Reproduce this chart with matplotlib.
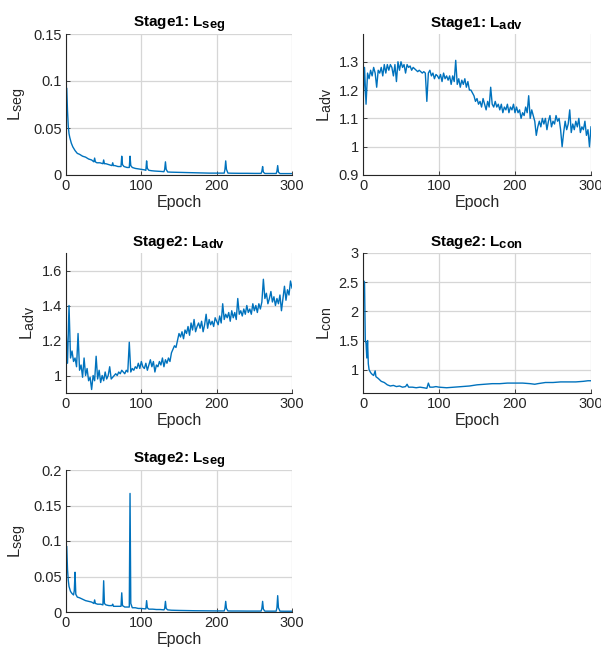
import numpy as np
import matplotlib
matplotlib.use("Agg")
import matplotlib.pyplot as plt
import matplotlib._mathtext as mathtext_internals

plt.rcParams["font.family"] = ["Liberation Sans", "DejaVu Sans"]
plt.rcParams["mathtext.fontset"] = "custom"
plt.rcParams["mathtext.rm"] = "Liberation Sans"
plt.rcParams["mathtext.it"] = "Liberation Sans"
plt.rcParams["mathtext.bf"] = "Liberation Sans:bold"
# MATLAB-style subscripts are nearly full size
mathtext_internals.SHRINK_FACTOR = 0.85

# ---- data ----
# Stage1 L_seg
s1_seg_epoch = [1, 2, 3, 4, 5, 7, 9, 12, 15, 18, 22, 26, 30, 34, 37, 38, 39, 41, 45, 49,
                50, 51, 53, 57, 61, 62, 63, 65, 69, 73, 74, 75, 77, 81, 84, 85, 86, 88, 92, 96,
                100, 104, 106, 107, 108, 110, 114, 118, 122, 126, 130, 131, 132, 133, 135, 140, 150, 160, 170, 180,
                190, 200, 205, 210, 211, 212, 213, 215, 220, 230, 240, 250, 255, 259, 260, 261, 262, 264, 270, 275,
                279, 280, 281, 282, 284, 290, 295, 300]
s1_seg_val = [0.092, 0.068, 0.052, 0.044, 0.040, 0.034, 0.030, 0.026, 0.023, 0.022, 0.020, 0.019, 0.017, 0.016, 0.014, 0.018, 0.014, 0.013, 0.013, 0.012,
              0.016, 0.012, 0.012, 0.011, 0.010, 0.013, 0.010, 0.010, 0.009, 0.009, 0.020, 0.011, 0.009, 0.008, 0.008, 0.020, 0.010, 0.008, 0.007, 0.0065,
              0.006, 0.0055, 0.005, 0.015, 0.007, 0.005, 0.0045, 0.0042, 0.004, 0.0038, 0.0035, 0.006, 0.014, 0.006, 0.0032, 0.003, 0.0028, 0.0026, 0.0024, 0.0022,
              0.002, 0.002, 0.002, 0.002, 0.006, 0.015, 0.006, 0.002, 0.0019, 0.0018, 0.0018, 0.0017, 0.0017, 0.0017, 0.004, 0.009, 0.003, 0.0016, 0.0016, 0.0016,
              0.0016, 0.004, 0.010, 0.003, 0.0015, 0.0015, 0.0015, 0.0015]

# Stage1 L_adv (every 2 epochs)
s1_adv_epoch = np.arange(0, 301, 2)
s1_adv_val = [1.14, 1.28, 1.15, 1.26, 1.24, 1.27, 1.25, 1.28, 1.26, 1.21,
              1.27, 1.26, 1.28, 1.25, 1.29, 1.26, 1.29, 1.27, 1.29, 1.28,
              1.25, 1.29, 1.23, 1.30, 1.27, 1.30, 1.28, 1.29, 1.26, 1.29,
              1.28, 1.285, 1.27, 1.28, 1.275, 1.27, 1.265, 1.27, 1.265, 1.26,
              1.265, 1.26, 1.16, 1.26, 1.27, 1.25, 1.26, 1.24, 1.255, 1.25,
              1.24, 1.255, 1.23, 1.26, 1.24, 1.25, 1.235, 1.25, 1.22, 1.25,
              1.23, 1.305, 1.22, 1.24, 1.21, 1.235, 1.22, 1.24, 1.21, 1.23,
              1.20, 1.20, 1.19, 1.18, 1.16, 1.17, 1.15, 1.16, 1.14, 1.17,
              1.15, 1.13, 1.16, 1.14, 1.21, 1.15, 1.14, 1.16, 1.14, 1.15,
              1.13, 1.15, 1.12, 1.14, 1.13, 1.15, 1.12, 1.14, 1.13, 1.15,
              1.12, 1.14, 1.12, 1.13, 1.10, 1.12, 1.11, 1.14, 1.12, 1.18,
              1.10, 1.13, 1.11, 1.09, 1.04, 1.07, 1.09, 1.07, 1.10, 1.08,
              1.10, 1.06, 1.09, 1.11, 1.07, 1.09, 1.08, 1.11, 1.09, 1.10,
              1.06, 1.00, 1.05, 1.09, 1.06, 1.08, 1.13, 1.05, 1.08, 1.06,
              1.09, 1.07, 1.10, 1.05, 1.07, 1.06, 1.09, 1.04, 1.06, 1.00,
              1.07]

# Stage2 L_adv (every 2 epochs)
s2_adv_epoch = np.arange(0, 301, 2)
s2_adv_val = [1.28, 1.07, 1.40, 1.10, 1.14, 1.08, 1.10, 1.05, 1.24, 1.03,
              1.06, 0.99, 1.10, 1.00, 1.04, 0.97, 0.99, 0.92, 1.00, 0.97,
              1.11, 0.98, 1.03, 0.96, 1.00, 0.97, 1.02, 0.98, 1.00, 1.05,
              0.98, 0.99, 1.00, 1.01, 1.00, 1.02, 1.01, 1.03, 1.02, 1.01,
              1.03, 1.02, 1.19, 1.02, 1.04, 1.03, 1.05, 1.04, 1.07, 1.04,
              1.08, 1.05, 1.04, 1.07, 1.03, 1.06, 1.09, 1.05, 1.08, 1.02,
              1.06, 1.05, 1.08, 1.06, 1.10, 1.05, 1.09, 1.07, 1.10, 1.08,
              1.13, 1.15, 1.17, 1.16, 1.20, 1.24, 1.22, 1.25, 1.21, 1.26,
              1.24, 1.28, 1.23, 1.30, 1.26, 1.32, 1.25, 1.28, 1.30, 1.27,
              1.31, 1.25, 1.29, 1.35, 1.27, 1.32, 1.29, 1.31, 1.28, 1.33,
              1.31, 1.29, 1.34, 1.30, 1.41, 1.32, 1.35, 1.33, 1.36, 1.31,
              1.37, 1.33, 1.36, 1.32, 1.44, 1.35, 1.37, 1.34, 1.38, 1.35,
              1.40, 1.36, 1.38, 1.35, 1.41, 1.37, 1.40, 1.36, 1.41, 1.38,
              1.42, 1.55, 1.44, 1.47, 1.41, 1.44, 1.48, 1.42, 1.45, 1.40,
              1.44, 1.41, 1.46, 1.37, 1.44, 1.51, 1.43, 1.49, 1.46, 1.54,
              1.50]

# Stage2 L_con
s2_con_epoch = [1, 2, 3, 4, 5, 6, 7, 8, 10, 12, 14, 16, 17, 20, 24, 28, 32, 36, 40, 44,
                48, 52, 56, 58, 60, 65, 70, 75, 80, 84, 86, 88, 92, 96, 100, 110, 120, 130, 140, 150,
                160, 170, 180, 190, 200, 210, 220, 226, 230, 240, 250, 260, 270, 280, 290, 296, 300]
s2_con_val = [2.52, 2.50, 1.50, 1.45, 1.20, 1.50, 1.10, 1.00, 0.95, 0.92, 0.90, 0.98, 0.88, 0.85, 0.80, 0.78, 0.74, 0.72, 0.73, 0.71,
              0.72, 0.70, 0.71, 0.75, 0.70, 0.70, 0.69, 0.70, 0.69, 0.68, 0.77, 0.70, 0.70, 0.71, 0.70, 0.69, 0.70, 0.71, 0.72, 0.74,
              0.75, 0.76, 0.76, 0.77, 0.77, 0.77, 0.76, 0.75, 0.76, 0.78, 0.78, 0.79, 0.79, 0.79, 0.80, 0.81, 0.81]

# Stage2 L_seg
s2_seg_epoch = [1, 2, 3, 4, 6, 8, 10, 11, 12, 13, 15, 18, 22, 26, 30, 34, 37, 38, 39, 42,
                46, 49, 50, 51, 53, 57, 61, 62, 63, 66, 70, 73, 74, 75, 78, 82, 84, 85, 86, 88,
                92, 96, 100, 104, 106, 107, 108, 110, 115, 120, 125, 130, 131, 132, 133, 135, 140, 150, 160, 170,
                180, 190, 200, 205, 210, 211, 212, 213, 215, 220, 230, 240, 250, 255, 259, 260, 261, 262, 264, 270,
                275, 279, 280, 281, 282, 284, 290, 295, 300]
s2_seg_val = [0.092, 0.060, 0.045, 0.036, 0.029, 0.026, 0.024, 0.030, 0.056, 0.025, 0.021, 0.020, 0.018, 0.016, 0.015, 0.014, 0.012, 0.017, 0.012, 0.011,
              0.011, 0.010, 0.044, 0.012, 0.010, 0.009, 0.009, 0.011, 0.008, 0.008, 0.008, 0.008, 0.027, 0.009, 0.007, 0.007, 0.007, 0.167, 0.012, 0.006,
              0.006, 0.005, 0.005, 0.0045, 0.0045, 0.016, 0.006, 0.004, 0.004, 0.0035, 0.0035, 0.003, 0.005, 0.015, 0.005, 0.003, 0.0025, 0.0022, 0.002, 0.0018,
              0.0017, 0.0016, 0.0015, 0.0015, 0.0015, 0.005, 0.015, 0.005, 0.0015, 0.0014, 0.0014, 0.0013, 0.0013, 0.0013, 0.0013, 0.005, 0.015, 0.004, 0.0012, 0.0012,
              0.0012, 0.0012, 0.006, 0.023, 0.006, 0.0012, 0.0011, 0.0011, 0.0011]

epoch_ticks = [0, 100, 200, 300]
line_color = "#0072BD"
dark = "#262626"

W, H = 601, 654
fig = plt.figure(figsize=(W / 100, H / 100), dpi=100)


def make_axes(left, right, top, bottom):
    return fig.add_axes([left / W, (H - bottom) / H, (right - left) / W, (bottom - top) / H])


def style(ax, title, ylabel, ylim, yticks, yticklabels):
    ax.set_xlim(0, 300)
    ax.set_ylim(*ylim)
    ax.set_xticks(epoch_ticks)
    ax.set_yticks(yticks)
    ax.set_yticklabels(yticklabels)
    ax.grid(True, color="#d6d6d6", linewidth=0.9)
    ax.set_axisbelow(True)
    for side in ["top", "right"]:
        ax.spines[side].set_visible(False)
    for side in ["left", "bottom"]:
        ax.spines[side].set_color(dark)
        ax.spines[side].set_linewidth(0.8)
    ax.tick_params(direction="in", length=3, width=0.6, colors=dark, labelsize=10.5, pad=3)
    ax.set_title(title, fontsize=11, fontweight="bold", color="black", pad=5)
    ax.set_xlabel("Epoch", fontsize=11.5, color=dark, labelpad=1)
    ax.set_ylabel(ylabel, fontsize=12, color=dark, labelpad=3)


ax1 = make_axes(66, 292, 34, 175)
ax1.plot(s1_seg_epoch, s1_seg_val, color=line_color, lw=1.0)
style(ax1, r"Stage1: $\mathbf{L_{seg}}$", r"$\mathrm{L_{seg}}$", (0, 0.15),
      [0, 0.05, 0.1, 0.15], ["0", "0.05", "0.1", "0.15"])

ax2 = make_axes(363, 591, 34, 175)
ax2.plot(s1_adv_epoch, s1_adv_val, color=line_color, lw=1.0)
style(ax2, r"Stage1: $\mathbf{L_{adv}}$", r"$\mathrm{L_{adv}}$", (0.9, 1.398),
      [0.9, 1.0, 1.1, 1.2, 1.3], ["0.9", "1", "1.1", "1.2", "1.3"])

ax3 = make_axes(66, 292, 253, 393)
ax3.plot(s2_adv_epoch, s2_adv_val, color=line_color, lw=1.0)
style(ax3, r"Stage2: $\mathbf{L_{adv}}$", r"$\mathrm{L_{adv}}$", (0.9, 1.7),
      [1.0, 1.2, 1.4, 1.6], ["1", "1.2", "1.4", "1.6"])

ax4 = make_axes(363, 591, 253, 393)
ax4.plot(s2_con_epoch, s2_con_val, color=line_color, lw=1.0)
style(ax4, r"Stage2: $\mathbf{L_{con}}$", r"$\mathrm{L_{con}}$", (0.6, 3.0),
      [1.0, 1.5, 2.0, 2.5, 3.0], ["1", "1.5", "2", "2.5", "3"])

ax5 = make_axes(66, 292, 470, 612)
ax5.plot(s2_seg_epoch, s2_seg_val, color=line_color, lw=1.0)
style(ax5, r"Stage2: $\mathbf{L_{seg}}$", r"$\mathrm{L_{seg}}$", (0, 0.2),
      [0, 0.05, 0.1, 0.15, 0.2], ["0", "0.05", "0.1", "0.15", "0.2"])

fig.savefig("out.png", dpi=100, facecolor="white")
